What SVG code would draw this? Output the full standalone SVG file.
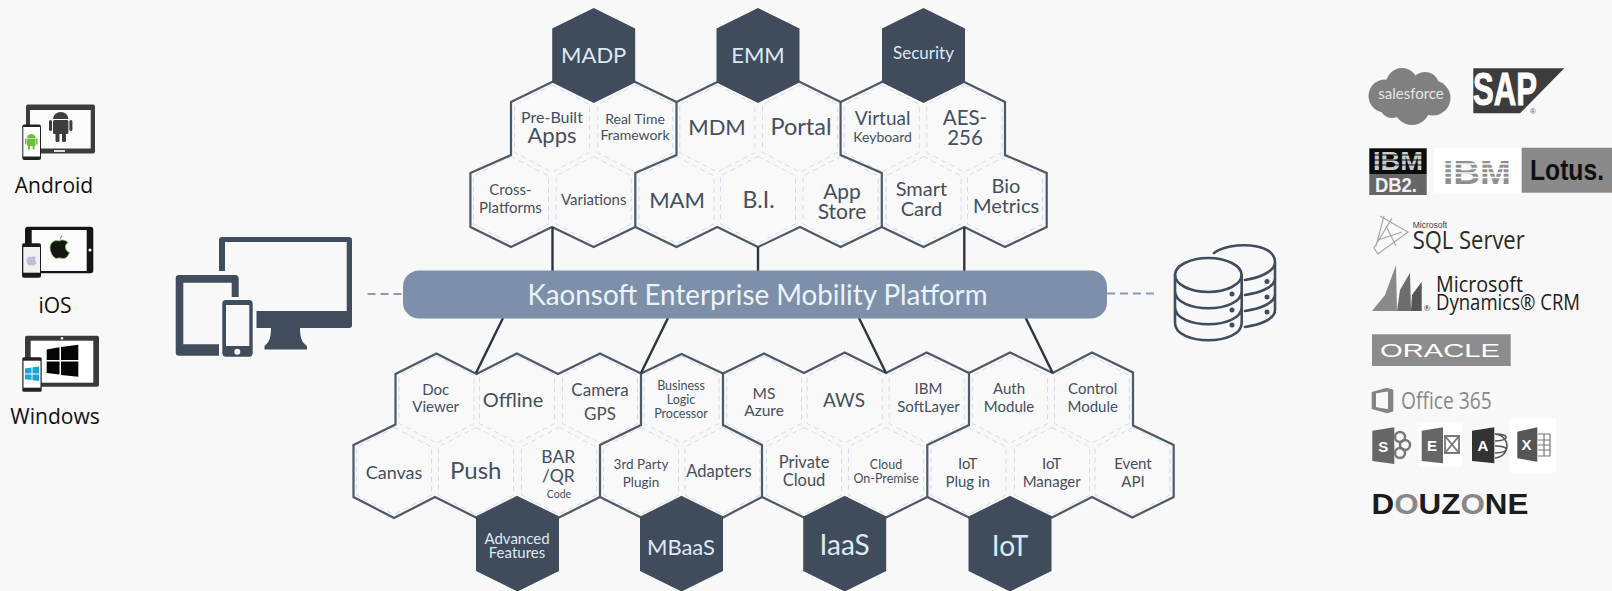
<svg xmlns="http://www.w3.org/2000/svg" width="1612" height="591" viewBox="0 0 1612 591">
<style>
text{font-family:Lato,"Noto Sans","Liberation Sans",sans-serif;text-anchor:middle}
.t{fill:#454f5e}
.w{fill:#dbe9f7}
.out{fill:none;stroke:#4f5966;stroke-width:2.2;stroke-linejoin:miter}
.con{fill:none;stroke:#2c3540;stroke-width:2.4}
.dash{fill:none;stroke:#8a9cba;stroke-width:2;stroke-dasharray:8 5}
.ic{fill:#414c5c}
.db{fill:none;stroke:#414c5c;stroke-width:2.6;stroke-linecap:round}
.lab{font-family:"Open Sans","Noto Sans",sans-serif;fill:#111;font-size:21px}
.lg{font-family:"Liberation Sans",sans-serif}
.os{font-family:"Open Sans",sans-serif;text-anchor:start}
</style>
<defs>
<polygon id="hl" points="0,-43.5 37.5,-24 37.5,24 0,43.5 -37.5,24 -37.5,-24" fill="#f9f9f9" stroke="#d3dae8" stroke-width="1" stroke-dasharray="5 4"/>
<polygon id="hd" points="0,-47.5 41.5,-27 41.5,27 0,47.5 -41.5,27 -41.5,-27" fill="#404b5c"/>
</defs>
<rect width="1612" height="591" fill="#f8f8f8"/>

<g id="light-hexes">
<use href="#hl" x="552" y="128.5"/><use href="#hl" x="635.3" y="128.5"/><use href="#hl" x="717.3" y="128.5"/><use href="#hl" x="800" y="128.5"/><use href="#hl" x="881.8" y="128.5"/><use href="#hl" x="964.3" y="128.5"/>
<use href="#hl" x="511" y="200"/><use href="#hl" x="593.7" y="200"/><use href="#hl" x="676.5" y="200"/><use href="#hl" x="758" y="200"/><use href="#hl" x="840.6" y="200"/><use href="#hl" x="923.5" y="200"/><use href="#hl" x="1005" y="200"/>
<use href="#hl" x="436.5" y="399.5"/><use href="#hl" x="517" y="399.5"/><use href="#hl" x="600" y="399.5"/><use href="#hl" x="681.5" y="399.5"/><use href="#hl" x="764" y="399.5"/><use href="#hl" x="844.7" y="399.5"/><use href="#hl" x="926.7" y="399.5"/><use href="#hl" x="1010" y="399.5"/><use href="#hl" x="1092" y="399.5"/>
<use href="#hl" x="394" y="471"/><use href="#hl" x="476" y="471"/><use href="#hl" x="559" y="471"/><use href="#hl" x="641" y="471"/><use href="#hl" x="722.5" y="471"/><use href="#hl" x="804" y="471"/><use href="#hl" x="886" y="471"/><use href="#hl" x="968.5" y="471"/><use href="#hl" x="1052" y="471"/><use href="#hl" x="1132.5" y="471"/>
</g>

<g id="connectors">
<path class="out" d="M470.4,173 L511,155 V102 L552,82 L593.7,62 L635.3,82 L676.5,102 L717.3,82 L758,62 L800,82 L840.6,102 L881.8,82 L923.5,62 L964.3,82 L1005,102 V155 L1046.7,173 V227 L1005,247 L964.3,227 L923.5,247 L881.8,227 L840.6,247 L800,227 L758,247 L717.3,227 L676.5,247 L635.3,227 L593.7,247 L552,227 L511,247 L470.4,227 Z"/>
<path class="out" d="M676.5,102 V155 L635.3,173 V227 M840.6,102 V155 L881.8,173 V227"/>
<path class="out" d="M353.5,445 L395.5,424.5 V374 L436.5,353.5 L476.5,374 L517,353.5 L558,374 L600,353.5 L641,373.5 L681.5,354 L723,373.5 L764,353.5 L804,373 L844.7,352.5 L886,373 L926.7,352.5 L969,373 L1010,352.5 L1052.7,373 L1092,352.5 L1133,372.5 V425.5 L1173.7,445 V497 L1132.3,517.5 L1092,497 L1052,517.5 L1010,497 L969,517.5 L927.3,497 L886,517.5 L844.7,497 L804,517.5 L762,497 L723,517.5 L681.5,497 L641,517.5 L600,497 L559,517.5 L517,497 L476,517.5 L435,497 L394,518 L353.5,497 Z"/>
<path class="out" d="M641,373.5 V425 L600,445 V497 M723,373.5 V425 L762,445 V497 M969,373 V425 L927.3,445 V497"/>
<path class="con" d="M552.5,227 V271 M758,247 V271 M964.3,227 V271"/>
<path class="con" d="M503,318 L476,373 M668,318 L641,373 M859,318 L886,373 M1025.7,318 L1052.7,373"/>
<path class="dash" d="M367.5,294 H403 M1107,293.5 H1158"/>
</g>

<g id="platform">
<rect x="403" y="270.5" width="704" height="48" rx="16" fill="#7d8fa9"/>
<text x="757.5" y="305" font-size="29" fill="#eaf3fb" textLength="460" lengthAdjust="spacingAndGlyphs">Kaonsoft Enterprise Mobility Platform</text>
</g>

<g id="madp"><use href="#hd" x="593.7" y="55.5"/><text class="w" x="593.7" y="63" font-size="22">MADP</text></g>
<g id="emm"><use href="#hd" x="758" y="55.5"/><text class="w" x="758" y="63" font-size="22">EMM</text></g>
<g id="security"><use href="#hd" x="923.5" y="55.5"/><text class="w" x="923.5" y="58.5" font-size="17">Security</text></g>
<g id="prebuilt"><text class="t" x="552" y="123" font-size="16">Pre-Built</text><text class="t" x="552" y="143" font-size="22">Apps</text></g>
<g id="realtime"><text class="t" x="635" y="124" font-size="14">Real Time</text><text class="t" x="635" y="140" font-size="14">Framework</text></g>
<g id="mdm"><text class="t" x="717" y="135" font-size="22">MDM</text></g>
<g id="portal"><text class="t" x="801" y="135" font-size="23.5">Portal</text></g>
<g id="virtual"><text class="t" x="882.6" y="125" font-size="19">Virtual</text><text class="t" x="882.6" y="141.5" font-size="14">Keyboard</text></g>
<g id="aes"><text class="t" x="965" y="124.5" font-size="20.5">AES-</text><text class="t" x="965" y="145" font-size="20.5">256</text></g>
<g id="cross"><text class="t" x="510.4" y="195" font-size="15">Cross-</text><text class="t" x="510.4" y="213" font-size="15">Platforms</text></g>
<g id="variations"><text class="t" x="593.7" y="205" font-size="15">Variations</text></g>
<g id="mam"><text class="t" x="677" y="208" font-size="22">MAM</text></g>
<g id="bi"><text class="t" x="758.6" y="208" font-size="23">B.I.</text></g>
<g id="appstore"><text class="t" x="842" y="199" font-size="21">App</text><text class="t" x="842" y="219" font-size="21">Store</text></g>
<g id="smartcard"><text class="t" x="921.4" y="196" font-size="20">Smart</text><text class="t" x="921.4" y="216" font-size="20">Card</text></g>
<g id="biometrics"><text class="t" x="1006" y="193" font-size="20">Bio</text><text class="t" x="1006" y="213" font-size="20">Metrics</text></g>

<g id="docviewer"><text class="t" x="435.7" y="394.5" font-size="15">Doc</text><text class="t" x="435.7" y="411.5" font-size="15">Viewer</text></g>
<g id="offline"><text class="t" x="513" y="406.5" font-size="20">Offline</text></g>
<g id="camera"><text class="t" x="600" y="396" font-size="17">Camera</text><text class="t" x="600" y="420" font-size="17">GPS</text></g>
<g id="blp"><text class="t" x="681" y="389.5" font-size="12.5">Business</text><text class="t" x="681" y="403.5" font-size="12.5">Logic</text><text class="t" x="681" y="417.5" font-size="12.5">Processor</text></g>
<g id="azure"><text class="t" x="764" y="399" font-size="15.5">MS</text><text class="t" x="764" y="416" font-size="15.5">Azure</text></g>
<g id="aws"><text class="t" x="844" y="406.5" font-size="19">AWS</text></g>
<g id="softlayer"><text class="t" x="928.5" y="394" font-size="15">IBM</text><text class="t" x="928.5" y="412" font-size="15">SoftLayer</text></g>
<g id="auth"><text class="t" x="1009" y="394" font-size="15">Auth</text><text class="t" x="1009" y="412" font-size="15">Module</text></g>
<g id="control"><text class="t" x="1092.7" y="394" font-size="15">Control</text><text class="t" x="1092.7" y="412" font-size="15">Module</text></g>
<g id="canvas"><text class="t" x="394" y="479" font-size="18">Canvas</text></g>
<g id="push"><text class="t" x="475.7" y="478.5" font-size="24">Push</text></g>
<g id="barqr"><text class="t" x="558.3" y="462.5" font-size="17.5">BAR</text><text class="t" x="558.3" y="481.5" font-size="17.5">/QR</text><text class="t" x="559" y="497.5" font-size="10.5">Code</text></g>
<g id="plugin3"><text class="t" x="641" y="469" font-size="13.5">3rd Party</text><text class="t" x="641" y="486.5" font-size="13.5">Plugin</text></g>
<g id="adapters"><text class="t" x="719" y="476.5" font-size="16.5">Adapters</text></g>
<g id="private"><text class="t" x="804" y="467.5" font-size="16.5">Private</text><text class="t" x="804" y="486" font-size="16.5">Cloud</text></g>
<g id="onpremise"><text class="t" x="886" y="468.5" font-size="12.5">Cloud</text><text class="t" x="886" y="483" font-size="12.5">On-Premise</text></g>
<g id="iotplugin"><text class="t" x="967.7" y="468.5" font-size="15">IoT</text><text class="t" x="967.7" y="486.5" font-size="15">Plug in</text></g>
<g id="iotmanager"><text class="t" x="1051.7" y="468.5" font-size="15">IoT</text><text class="t" x="1051.7" y="486.5" font-size="15">Manager</text></g>
<g id="eventapi"><text class="t" x="1133" y="468.5" font-size="15">Event</text><text class="t" x="1133" y="486.5" font-size="15">API</text></g>

<g id="advanced"><use href="#hd" x="517.5" y="544"/><text class="w" x="517" y="544" font-size="15">Advanced</text><text class="w" x="517" y="558" font-size="15">Features</text></g>
<g id="mbaas"><use href="#hd" x="681.5" y="544"/><text class="w" x="681" y="555" font-size="22">MBaaS</text></g>
<g id="iaas"><use href="#hd" x="844.7" y="544"/><text class="w" x="844.7" y="555" font-size="28">IaaS</text></g>
<g id="iot"><use href="#hd" x="1010" y="544"/><text class="w" x="1010" y="556" font-size="28">IoT</text></g>

<g id="devices" class="ic">
<path d="M219,271 V240 Q219,237 222,237 H349 Q352,237 352,240 V325 Q352,328 349,328 H256.5 V311 H346.7 V242 H225 V271 Z"/>
<path d="M271,328 H300 C300,340 303,343 307,346 V349.5 H264.5 V346 C268,343 271,340 271,328 Z"/>
<path d="M179,275 H235 Q238.7,275 238.7,278.7 V297 H231.7 V282.7 H183.3 V344.3 H219 V355.7 H179 Q175.7,355.7 175.7,352.4 V278 Q175.7,275 179,275 Z"/>
<circle cx="206.7" cy="349.5" r="3.7"/>
<path fill-rule="evenodd" d="M226,300 H249 Q252.7,300 252.7,303.7 V353 Q252.7,356.7 249,356.7 H226 Q222.3,356.7 222.3,353 V303.7 Q222.3,300 226,300 Z M226,305 V346 H249.3 V305 Z"/>
<circle cx="237.3" cy="351.7" r="3" fill="#f8f8f8"/>
</g>

<g id="database">
<ellipse class="db" cx="1208.3" cy="275" rx="33.3" ry="17"/>
<path class="db" d="M1175,275 V323 C1175,346 1241.7,346 1241.7,323 V275 M1175,291 C1175,314 1241.7,314 1241.7,291 M1175,307 C1175,330 1241.7,330 1241.7,307"/>
<path class="db" d="M1214,253 C1230,241 1275,242 1275,262 V310 C1275,320 1258,325 1245,327 M1275,262 C1275,272 1258,278 1245,280 M1275,278 C1275,288 1258,293 1245,295 M1275,294 C1275,304 1258,309 1245,311"/>
<g class="ic"><circle cx="1232" cy="294" r="2.5"/><circle cx="1232" cy="310" r="2.5"/><circle cx="1232" cy="325" r="2.5"/><circle cx="1267" cy="281.5" r="2.5"/><circle cx="1267" cy="297" r="2.5"/><circle cx="1267" cy="312" r="2.5"/></g>
</g>

<g id="android">
<rect x="26" y="104.5" width="69" height="49" rx="2" fill="#3c3c3c"/>
<rect x="30" y="110" width="60.7" height="38.5" fill="#fbfbfb"/>
<rect x="54" y="150" width="11" height="2" fill="#ddd"/>
<g fill="#3d3d3d"><path d="M53,119 A7.7,7 0 0 1 68.4,119 Z"/><rect x="53" y="120" width="15.4" height="14" rx="1.5"/><rect x="49" y="120" width="3" height="11" rx="1.5"/><rect x="69.4" y="120" width="3" height="11" rx="1.5"/><rect x="55.5" y="133" width="4" height="9" rx="1.5"/><rect x="62" y="133" width="4" height="9" rx="1.5"/></g>
<rect x="22.3" y="124.5" width="18.7" height="35.5" rx="2" fill="#222"/>
<rect x="23.3" y="127" width="16.7" height="29.5" fill="#fff"/>
<g fill="#6abf3f"><path d="M27,138 A4.3,4 0 0 1 35.6,138 Z"/><rect x="27" y="138.5" width="8.6" height="7.5" rx="1"/><rect x="25" y="138.5" width="1.5" height="6"/><rect x="36" y="138.5" width="1.5" height="6"/><rect x="28" y="146" width="2" height="3.5"/><rect x="32.5" y="146" width="2" height="3.5"/></g>
<text class="lab" x="54" y="193">Android</text>
</g>
<g id="ios">
<rect x="25" y="226.7" width="68.3" height="46.6" rx="3" fill="#151515"/>
<rect x="31.7" y="230" width="55" height="41" fill="#fbfbfb"/>
<circle cx="90" cy="250" r="1.6" fill="#fff"/>
<path d="M59,241 C62,239 66,240 68,242.5 C64,245 65,251 69.5,252.5 C68,257 65,259 62.5,258.5 C60.5,257.7 58.5,257.7 56.5,258.5 C53,258 50,252 50,248 C50,242 55,239.5 59,241 Z M60,239.5 C60,237 61.5,236 62.5,235.5" fill="#14160f" stroke="#9bd27a" stroke-width=".8"/>
<rect x="22" y="243.3" width="19" height="34.4" rx="2" fill="#1b1b1b"/>
<rect x="23.3" y="247" width="16.7" height="25.7" fill="#f1f1f1"/>
<path d="M31.5,257 C33,256 35.5,256.5 36,257.5 C34.5,258.5 34.5,261.5 36.5,262.5 C35.5,265 34,266 32.5,265.5 C31.5,265 30.5,265 29.5,265.5 C28,265.5 26.5,262.5 26.5,260.5 C26.5,257.5 29.5,256 31.5,257 Z" fill="#b9bfd6"/>
<text class="lab" x="55" y="312.5">iOS</text>
</g>
<g id="windows">
<rect x="25" y="335.7" width="74" height="51" rx="2" fill="#3a3a3a"/>
<rect x="30.7" y="340.7" width="62.6" height="42" fill="#fff"/>
<circle cx="62" cy="338.3" r="1.2" fill="#fff"/>
<polygon points="46.7,349.5 59.5,347.2 59.5,360 46.7,360" fill="#050505"/><polygon points="61,347 78.3,344.7 78.3,360 61,360" fill="#050505"/>
<polygon points="46.7,361.5 59.5,361.5 59.5,374.5 46.7,373" fill="#050505"/><polygon points="61,361.5 78.3,361.5 78.3,376.8 61,375" fill="#050505"/>
<rect x="22.3" y="357.3" width="19.4" height="34.4" rx="1.5" fill="#222"/>
<rect x="23.5" y="360.7" width="17" height="27" fill="#fff"/>
<polygon points="25,368.5 31.5,367.5 31.5,373.5 25,373.5" fill="#18a4dc"/><polygon points="32.5,367.3 39,366.5 39,373.5 32.5,373.5" fill="#18a4dc"/><polygon points="25,374.5 31.5,374.5 31.5,380 25,379.3" fill="#18a4dc"/><polygon points="32.5,374.5 39,374.5 39,381 32.5,380.2" fill="#18a4dc"/>
<text class="lab" x="55" y="423.5">Windows</text>
</g>

<g id="salesforce">
<g fill="#808080"><circle cx="1385" cy="96" r="16.5"/><circle cx="1402" cy="84" r="16"/><circle cx="1425" cy="86" r="14"/><circle cx="1433" cy="98" r="17.5"/><circle cx="1412" cy="107" r="18"/><circle cx="1392" cy="106" r="12"/></g>
<text x="1411" y="98.5" font-size="15" fill="#e6e6e6">salesforce</text>
</g>
<g id="sap">
<polygon points="1473.3,68.3 1564.3,68.3 1520,113.3 1473.3,113.3" fill="#3c3c3c"/>
<text class="lg" x="1505" y="105" font-size="46" font-weight="bold" fill="#fff" textLength="64" lengthAdjust="spacingAndGlyphs" stroke="#fff" stroke-width="1">SAP</text>
<text class="lg" x="1533" y="113.5" font-size="8" fill="#555">®</text>
</g>
<g id="db2">
<rect x="1369.3" y="148.3" width="57.4" height="25.7" fill="#0c0c0c"/>
<rect x="1369.3" y="174" width="57.4" height="21" fill="#666"/>
<text class="lg" x="1398" y="170" font-size="25" font-weight="bold" fill="#ccc" textLength="50" lengthAdjust="spacingAndGlyphs">IBM</text>
<path d="M1370,155 H1426 M1370,160 H1426 M1370,165 H1426" stroke="#0c0c0c" stroke-width="1.2"/>
<text class="lg" x="1396" y="192" font-size="21" font-weight="bold" fill="#f0f0f0" textLength="42" lengthAdjust="spacingAndGlyphs">DB2.</text>
</g>
<g id="ibm">
<rect x="1434" y="148.3" width="87" height="44.4" fill="#fff"/>
<text class="lg" x="1477" y="184" font-size="34" font-weight="bold" fill="#8f8f8f" textLength="68" lengthAdjust="spacingAndGlyphs">IBM</text>
<path d="M1440,164 H1514 M1440,168.5 H1514 M1440,173 H1514 M1440,177.5 H1514" stroke="#fff" stroke-width="1.4"/>
</g>
<g id="lotus">
<rect x="1521.7" y="147.7" width="90.3" height="45" fill="#8a8a8a"/>
<text class="lg" x="1567" y="180" font-size="29" font-weight="bold" fill="#111" textLength="74" lengthAdjust="spacingAndGlyphs">Lotus.</text>
</g>
<g id="sqlserver">
<path d="M1380,216 L1408,232 L1378,254 L1374,248 L1392,218 M1386,226 L1396,246 M1378,240 L1402,232 M1384,216 L1376,246" fill="none" stroke="#a8a8a8" stroke-width="1.2"/>
<text class="lg" x="1412.7" y="228" font-size="8.5" fill="#444" style="text-anchor:start">Microsoft</text>
<text class="os" x="1412.7" y="248.5" font-size="25" fill="#2a2a2a" textLength="112" lengthAdjust="spacingAndGlyphs">SQL Server</text>
</g>
<g id="dynamics">
<polygon points="1372,311 1385,295 1396,265 1397,311" fill="#8a8a8a"/>
<polygon points="1397,311 1400,290 1410,272.7 1411,311" fill="#6d6d6d"/>
<polygon points="1411,311 1412,295 1421.7,281.7 1421.7,311" fill="#555"/>
<text class="os" x="1436" y="291.5" font-size="21" fill="#1c1c1c" textLength="87" lengthAdjust="spacingAndGlyphs">Microsoft</text>
<text class="os" x="1436" y="310" font-size="21" fill="#1c1c1c" textLength="144" lengthAdjust="spacingAndGlyphs">Dynamics® CRM</text>
<text x="1427" y="311" font-size="8" fill="#333">®</text>
</g>
<g id="oracle">
<rect x="1372" y="334.3" width="138.7" height="31.7" fill="#8c8c8c"/>
<text class="lg" x="1440" y="356.7" font-size="18.5" fill="#fff" textLength="120" lengthAdjust="spacingAndGlyphs">ORACLE</text>
</g>
<g id="office365">
<path fill-rule="evenodd" d="M1371.7,392 L1387,387.7 L1393.3,389.7 V411.5 L1387,413.3 L1371.7,409 Z M1376,393.5 V407 L1381,408 L1388,409 V391.5 L1381,392.5 Z" fill="#848484"/>
<text class="os" x="1401" y="408.5" font-size="24" fill="#888" textLength="90.7" lengthAdjust="spacingAndGlyphs">Office 365</text>
</g>
<g id="office-apps">
<rect x="1418" y="423.3" width="44" height="43.4" fill="#fff"/>
<rect x="1509" y="419" width="47" height="53.7" fill="#fff"/>
<polygon points="1372.3,430.7 1394.3,427.3 1394.3,464 1372.3,461" fill="#666"/>
<circle cx="1400" cy="437" r="5" fill="none" stroke="#777" stroke-width="2.5"/><circle cx="1405" cy="445" r="5" fill="none" stroke="#777" stroke-width="2.5"/><circle cx="1400" cy="453" r="5" fill="none" stroke="#777" stroke-width="2.5"/>
<text class="lg" x="1383.3" y="452" font-size="15" font-weight="bold" fill="#fff">S</text>
<polygon points="1421.7,430.7 1443,427.3 1443,463.3 1421.7,461" fill="#666"/>
<text class="lg" x="1432" y="451" font-size="15" font-weight="bold" fill="#fff">E</text>
<path d="M1445,436 H1459 V453 H1445 Z M1445,436 L1459,453 M1459,436 L1445,453" fill="none" stroke="#777" stroke-width="1.8"/>
<polygon points="1472,430.7 1494.3,427.3 1494.3,463.3 1472,461" fill="#333"/>
<text class="lg" x="1483" y="451" font-size="15" font-weight="bold" fill="#fff">A</text>
<path d="M1495,434 C1510,434 1510,440 1495,441 M1495,446 C1510,446 1510,452 1495,453 M1495,434 C1511,436 1511,456 1495,458" fill="none" stroke="#555" stroke-width="1.5"/>
<polygon points="1517.3,431.7 1537.3,427.3 1537.3,461.7 1517.3,458.3" fill="#555"/>
<text class="lg" x="1526.5" y="450" font-size="15" font-weight="bold" fill="#fff">X</text>
<path d="M1538,434 H1550 V456 H1538 M1538,440 H1550 M1538,445 H1550 M1538,450 H1550 M1544,434 V456" fill="none" stroke="#777" stroke-width="1.2"/>
</g>
<g id="douzone">
<text class="lg" x="1450" y="513.5" font-size="29" font-weight="bold" fill="#1c1c1c" textLength="157" lengthAdjust="spacingAndGlyphs">D<tspan fill="#888">O</tspan>UZ<tspan fill="#888">O</tspan>NE</text>
</g>
</svg>
